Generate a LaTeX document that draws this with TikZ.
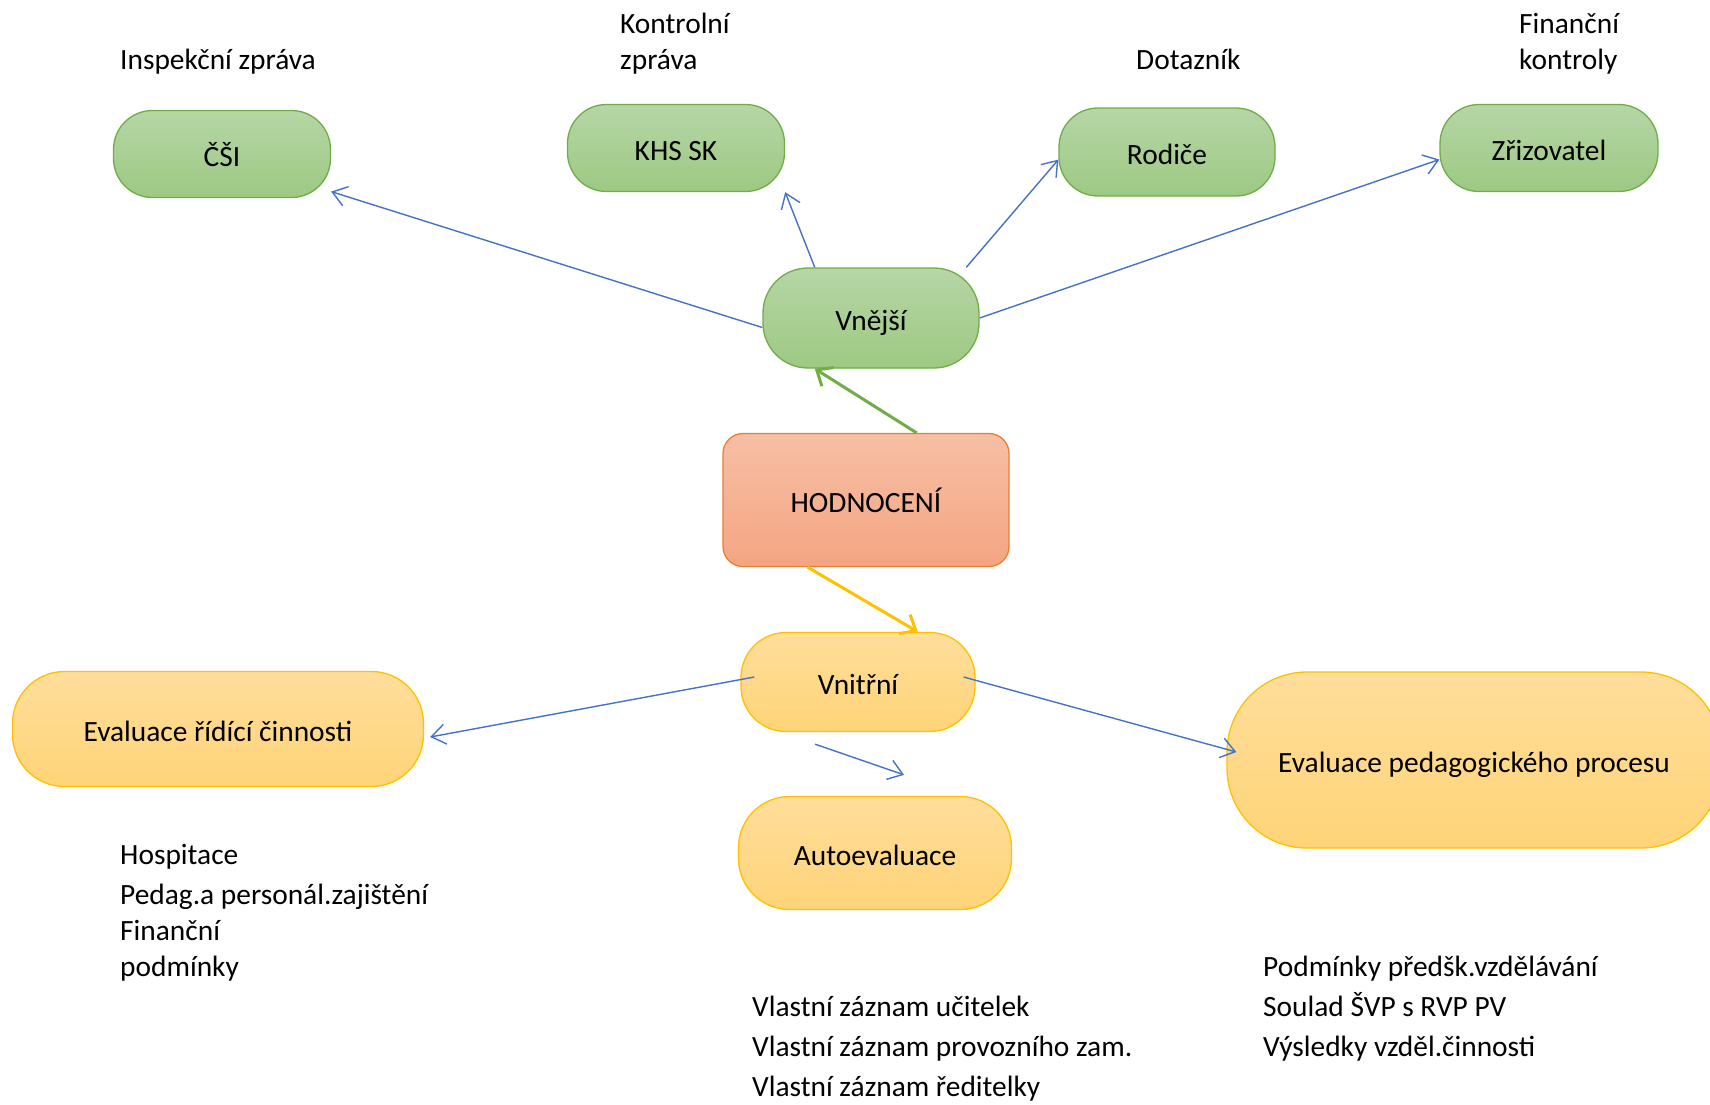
\documentclass[tikz,border=0pt]{standalone}
\usepackage{fontspec}
\setmainfont{Carlito}
\usetikzlibrary{arrows.meta}
\usetikzlibrary{calc}
\definecolor{modra}{RGB}{68,114,196}
\definecolor{zelena}{RGB}{112,173,71}
\definecolor{zelena-horni}{RGB}{182,214,166}
\definecolor{zelena-dolni}{RGB}{157,201,131}
\definecolor{oranz}{RGB}{237,125,49}
\definecolor{oranz-horni}{RGB}{247,191,165}
\definecolor{oranz-dolni}{RGB}{244,165,130}
\definecolor{zluta}{RGB}{255,192,0}
\definecolor{zluta-horni}{RGB}{255,222,155}
\definecolor{zluta-dolni}{RGB}{255,212,120}

\tikzset{
    box/.style={line width=1.3pt, inner sep=0pt, text height=25pt, text depth=1pt},
    zelenybox/.style={box, draw=zelena, top color=zelena-horni, bottom color=zelena-dolni,
        rounded corners=39pt, minimum width=217pt, minimum height=87pt},
    oranzbox/.style={box, draw=oranz, top color=oranz-horni, bottom color=oranz-dolni,
        rounded corners=20pt, minimum width=286pt, minimum height=133pt},
    zlutybox/.style={box, draw=zluta, top color=zluta-horni, bottom color=zluta-dolni,
        rounded corners=45pt},
    popis/.style={anchor=base west, align=left, inner sep=0pt},
    sipka/.style={modra, line width=1.4pt, -{Straight Barb[length=14pt,width=20pt]}},
    silnasipka/.style={line width=3pt, -{Straight Barb[length=13pt,width=22pt]}}
}

\begin{document}
\begin{tikzpicture}[x=1pt, y=-1pt, font=\fontsize{29.4}{36}\selectfont]

    \useasboundingbox (0,0) rectangle (1710,1104);
    \clip (0,0) rectangle (1710,1104);

    % vnejsi hodnoceni
    \node[zelenybox] (csi) at (222,154) {ČŠI};
    \node[zelenybox] (khs) at (676,148) {KHS SK};
    \node[zelenybox, minimum width=216pt, minimum height=88pt] (rodice) at (1167,152) {Rodiče};
    \node[zelenybox, minimum width=218pt] (zrizovatel) at (1549,148) {Zřizovatel};
    \node[zelenybox, minimum width=216pt, minimum height=100pt, rounded corners=45pt] (vnejsi) at (871,318) {Vnější};

    \node[oranzbox] (hodnoceni) at (866,500) {HODNOCENÍ};

    % vnitrni hodnoceni
    \node[zlutybox, minimum width=234pt, minimum height=99pt] (vnitrni) at (858,682) {Vnitřní};
    \node[zlutybox, minimum width=273pt, minimum height=113pt, rounded corners=51pt] (autoevaluace) at (875,853) {Autoevaluace};
    \node[zlutybox, minimum width=411pt, minimum height=115pt, rounded corners=52pt] (ridici) at (218,729) {Evaluace řídící činnosti};
    \node[zlutybox, minimum width=494pt, minimum height=176pt, rounded corners=80pt] (pedagogicky) at (1474,760) {Evaluace pedagogického procesu};

    \node[popis] (inspekce) at (120,69) {Inspekční zpráva};
    \node[popis] (kontrola) at (620,69) {Kontrolní\\zpráva};
    \node[popis] (dotaznik) at (1136,69) {Dotazník};
    \node[popis] (financni) at (1519,69) {Finanční\\kontroly};
    \node[popis] (hospitace) at (120,976) {Hospitace\\[4pt]Pedag.a personál.zajištění\\Finanční\\podmínky};
    \node[popis] (zaznamy) at (752,1096) {Vlastní záznam učitelek\\[4pt]Vlastní záznam provozního zam.\\[4pt]Vlastní záznam ředitelky};
    \node[popis] (podminky) at (1263,1056) {Podmínky předšk.vzdělávání\\[4pt]Soulad ŠVP s RVP PV\\[4pt]Výsledky vzděl.činnosti};

    \draw[sipka] (vnejsi.185) -- (csi.-19);
    \draw[sipka] (vnejsi.138) -- (khs.south east);
    \draw[sipka] (vnejsi.28) -- (rodice.184);
    \draw[sipka] (vnejsi.east) -- (zrizovatel.186);
    \draw[silnasipka, zelena] (hodnoceni.53) -- (vnejsi.222);
    \draw[silnasipka, zluta] (hodnoceni.229) -- (vnitrni.40);
    \draw[sipka] ($(vnitrni.west)+(14,-5)$) -- ($(ridici.east)+(6,8)$);
    \draw[sipka] ($(vnitrni.east)+(-12,-5)$) -- ($(pedagogicky.west)+(10,-8)$);
    \draw[sipka] ($(vnitrni.south)+(-43,12)$) -- ($(autoevaluace.north)+(29,-21)$);

\end{tikzpicture}
\end{document}
